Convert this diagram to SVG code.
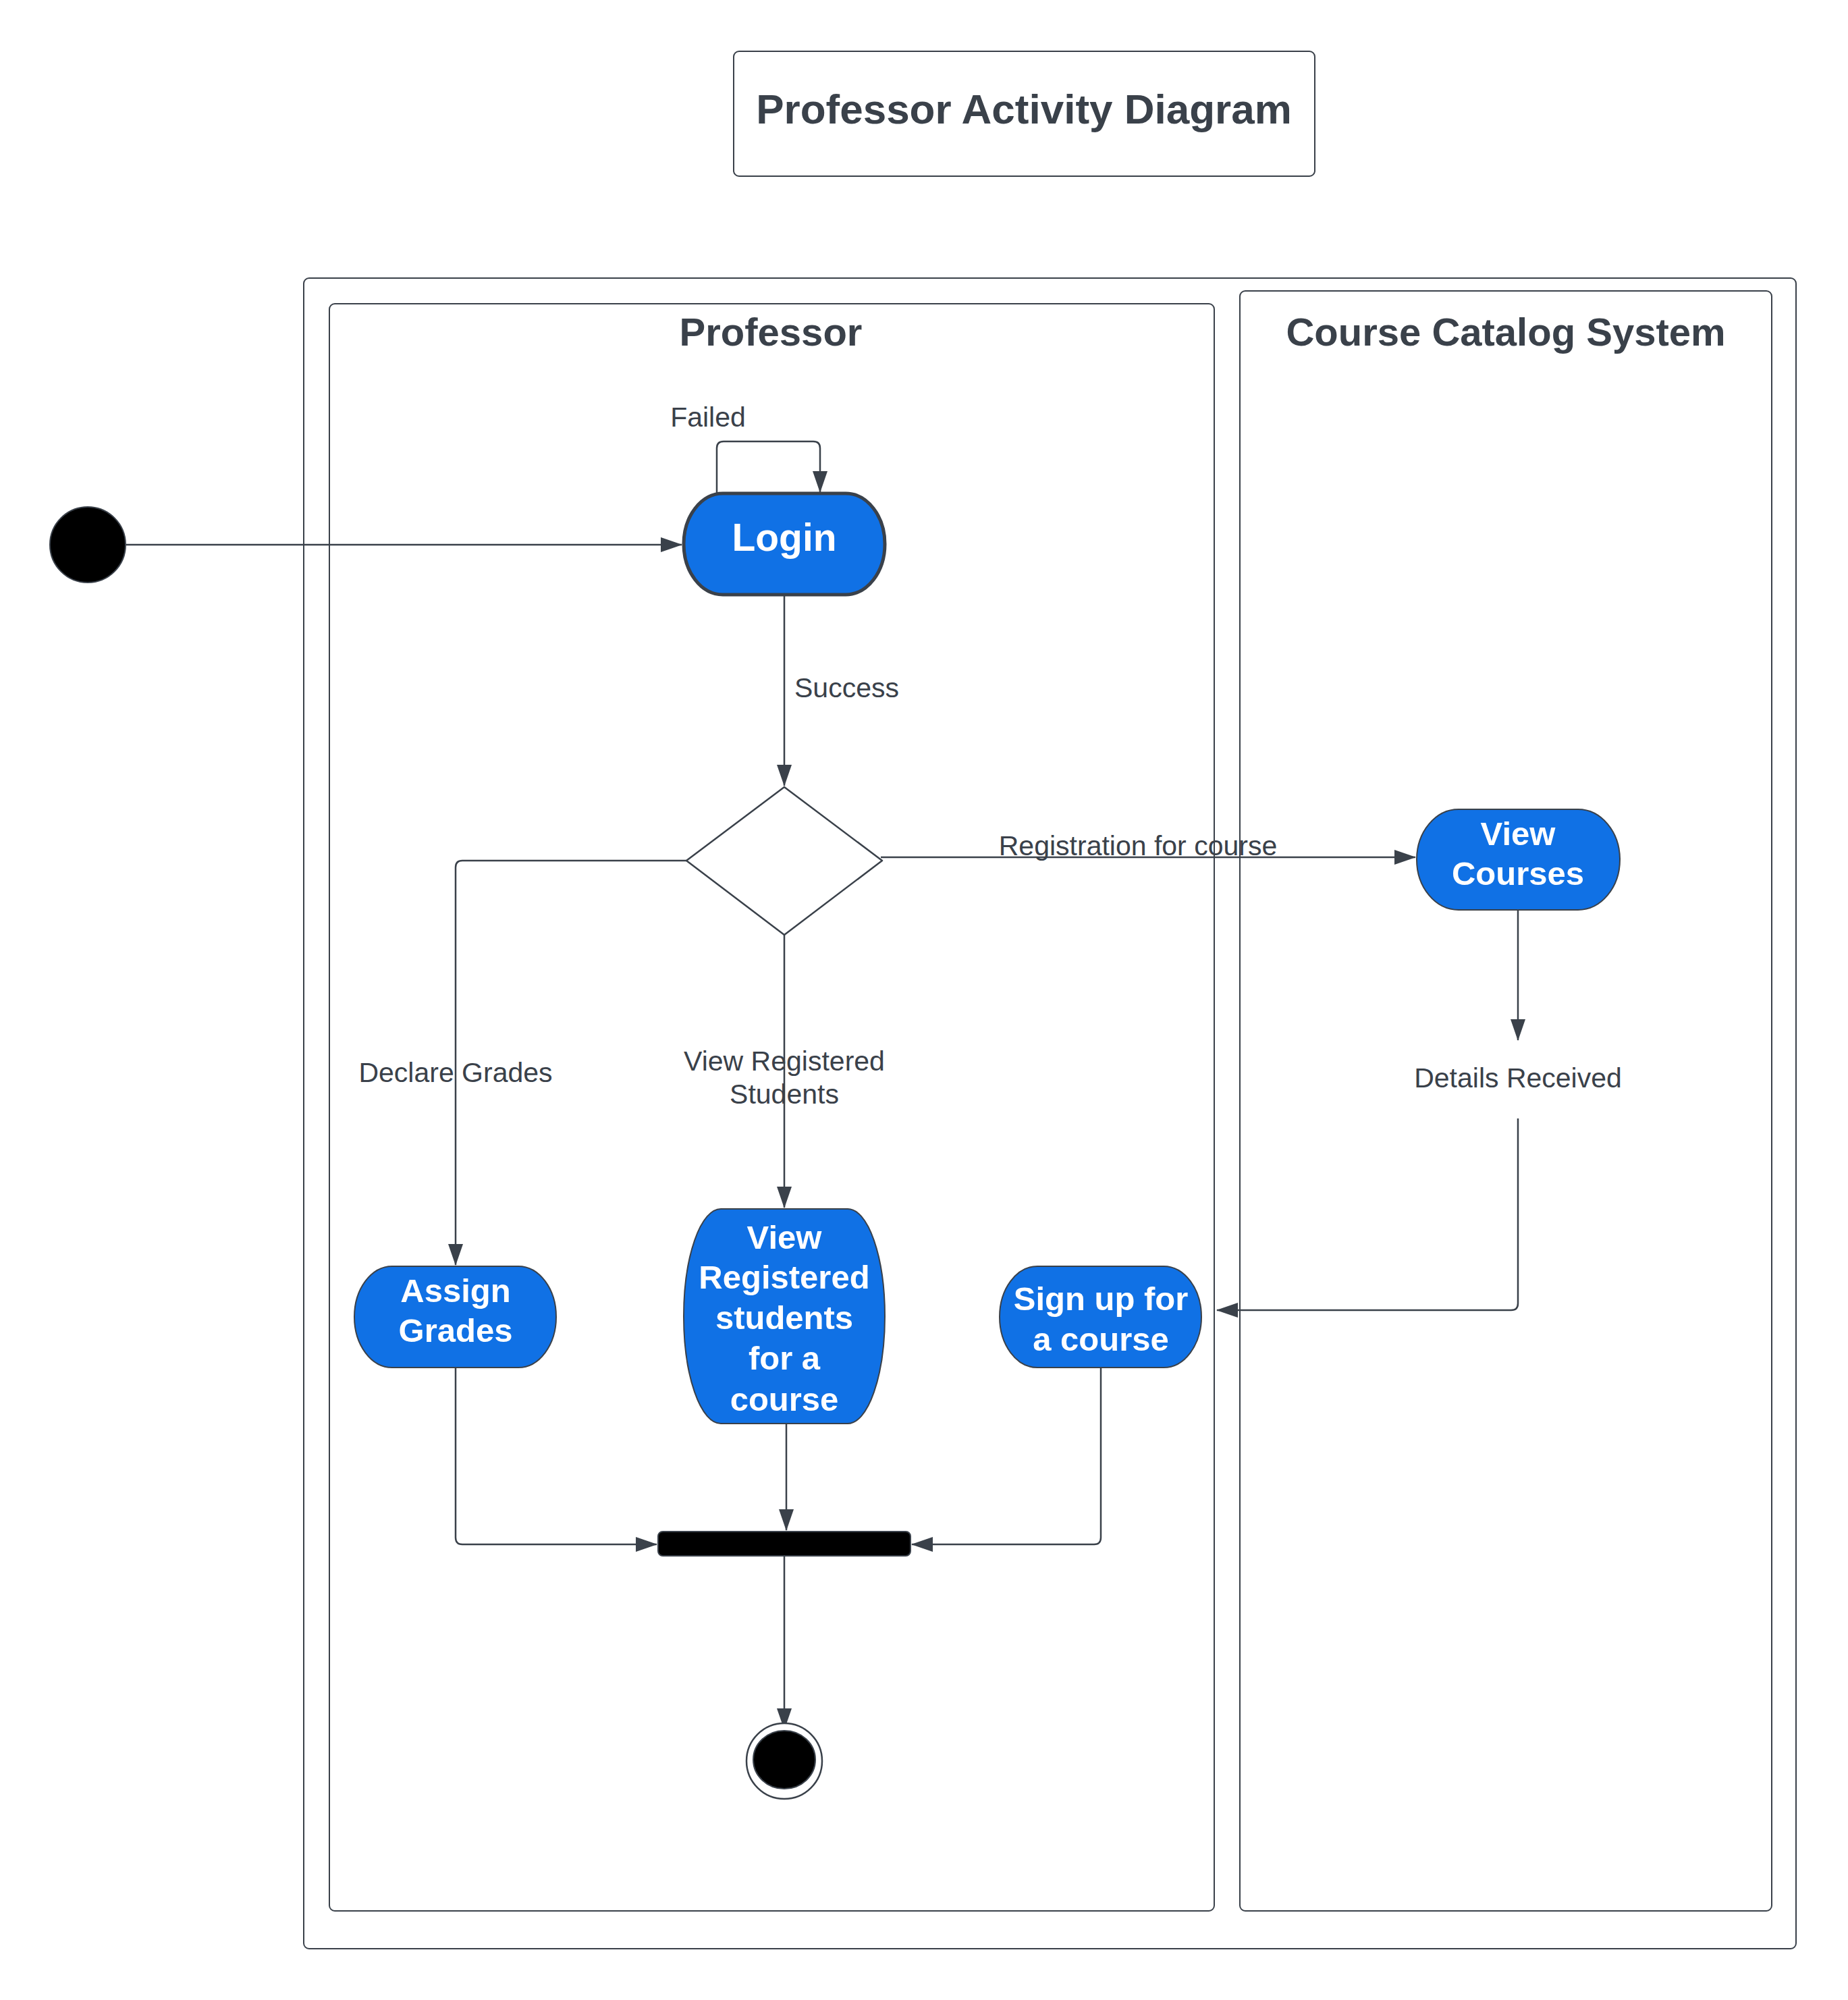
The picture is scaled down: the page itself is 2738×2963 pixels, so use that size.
<svg xmlns="http://www.w3.org/2000/svg" width="2738" height="2963" viewBox="0 0 2738 2963">
<style>
.frame{fill:#fff;stroke:#3a414a;stroke-width:2}
.lane{fill:none;stroke:#3a414a;stroke-width:2}
.title{font-family:"Liberation Sans",Arial,sans-serif;font-weight:bold;fill:#3a414a}
.lbl{font-family:"Liberation Sans",Arial,sans-serif;font-size:41px;fill:#3a414a;text-anchor:middle}
.act{fill:#1071e5;stroke:#3a414a;stroke-width:2}
.acttxt{font-family:"Liberation Sans",Arial,sans-serif;font-weight:bold;font-size:49px;fill:#fff;text-anchor:middle}
.conn{fill:none;stroke:#3a414a;stroke-width:2.5}
</style>
<defs>
<marker id="arr" markerUnits="userSpaceOnUse" markerWidth="32" markerHeight="22" refX="31" refY="11" orient="auto">
<path d="M0,0 L32,11 L0,22 z" fill="#3a414a"/>
</marker>
</defs>
<rect width="2738" height="2963" fill="#fff"/>

<g id="title">
<rect class="frame" x="1087" y="76" width="861" height="185" rx="8"/>
<text class="title" x="1517" y="183" font-size="62" text-anchor="middle">Professor Activity Diagram</text>
</g>

<g id="container">
<rect class="lane" x="450" y="412" width="2211" height="2475" rx="8"/>
</g>
<g id="lane-professor">
<rect class="lane" x="488" y="450" width="1311" height="2381" rx="8"/>
<text class="title" x="1142" y="512" font-size="58" text-anchor="middle">Professor</text>
</g>
<g id="lane-ccs">
<rect class="lane" x="1837" y="431" width="788" height="2400" rx="8"/>
<text class="title" x="2231" y="512" font-size="58" text-anchor="middle">Course Catalog System</text>
</g>

<g id="connectors">
<path class="conn" d="M187,807 H1010" marker-end="url(#arr)"/>
<path class="conn" d="M1062,731 V664 Q1062,654 1072,654 H1205 Q1215,654 1215,664 V729" marker-end="url(#arr)"/>
<path class="conn" d="M1162,883 V1164" marker-end="url(#arr)"/>
<path class="conn" d="M1305,1270 H2097" marker-end="url(#arr)"/>
<path class="conn" d="M2249,1349 V1541" marker-end="url(#arr)"/>
<path class="conn" d="M2249,1657 V1931 Q2249,1941 2239,1941 H1803" marker-end="url(#arr)"/>
<path class="conn" d="M1017,1275 H685 Q675,1275 675,1285 V1874" marker-end="url(#arr)"/>
<path class="conn" d="M1162,1385 V1789" marker-end="url(#arr)"/>
<path class="conn" d="M675,2026 V2278 Q675,2288 685,2288 H973" marker-end="url(#arr)"/>
<path class="conn" d="M1165,2109 V2267" marker-end="url(#arr)"/>
<path class="conn" d="M1631,2026 V2278 Q1631,2288 1621,2288 H1351" marker-end="url(#arr)"/>
<path class="conn" d="M1162,2305 V2562" marker-end="url(#arr)"/>
<text class="lbl" x="1049" y="632">Failed</text>
<text class="lbl" x="1177" y="1033" style="text-anchor:start">Success</text>
<text class="lbl" x="1686" y="1267">Registration for course</text>
<text class="lbl" x="2249" y="1611">Details Received</text>
<text class="lbl" x="675" y="1603">Declare Grades</text>
<text class="lbl" x="1162" y="1586">View Registered</text>
<text class="lbl" x="1162" y="1635">Students</text>
</g>

<g id="initial">
<circle cx="130" cy="807" r="56" fill="#000" stroke="#3a414a" stroke-width="2"/>
</g>

<g id="login">
<rect x="1013" y="731" width="298" height="150" rx="58" ry="75" fill="#1071e5" stroke="#3a414a" stroke-width="5"/>
<text class="acttxt" x="1162" y="816" style="font-size:57px">Login</text>
</g>

<g id="decision">
<path d="M1162,1166 L1307,1275 L1162,1385 L1017,1275 Z" fill="#fff" stroke="#3a414a" stroke-width="2.5" stroke-linejoin="round"/>
</g>

<g id="view-courses">
<rect class="act" x="2099" y="1199" width="301" height="149" rx="62" ry="74.5"/>
<text class="acttxt" x="2249" y="1252">View</text>
<text class="acttxt" x="2249" y="1311">Courses</text>
</g>

<g id="assign-grades">
<rect class="act" x="525" y="1876" width="299" height="150" rx="56" ry="75"/>
<text class="acttxt" x="675" y="1929">Assign</text>
<text class="acttxt" x="675" y="1988">Grades</text>
</g>

<g id="view-registered">
<rect class="act" x="1013" y="1791" width="298" height="318" rx="55" ry="159"/>
<text class="acttxt" x="1162" y="1850">View</text>
<text class="acttxt" x="1162" y="1909">Registered</text>
<text class="acttxt" x="1162" y="1969">students</text>
<text class="acttxt" x="1162" y="2029">for a</text>
<text class="acttxt" x="1162" y="2090">course</text>
</g>

<g id="sign-up">
<rect class="act" x="1481" y="1876" width="299" height="150" rx="56" ry="75"/>
<text class="acttxt" x="1631" y="1941">Sign up for</text>
<text class="acttxt" x="1631" y="2001">a course</text>
</g>

<g id="join-bar">
<rect x="975" y="2269" width="374" height="36" rx="7" fill="#000" stroke="#3a414a" stroke-width="2"/>
</g>

<g id="final">
<circle cx="1162" cy="2609" r="56" fill="#fff" stroke="#3a414a" stroke-width="2.5"/>
<ellipse cx="1162" cy="2607" rx="46" ry="43" fill="#000" stroke="#3a414a" stroke-width="2"/>
</g>
</svg>
